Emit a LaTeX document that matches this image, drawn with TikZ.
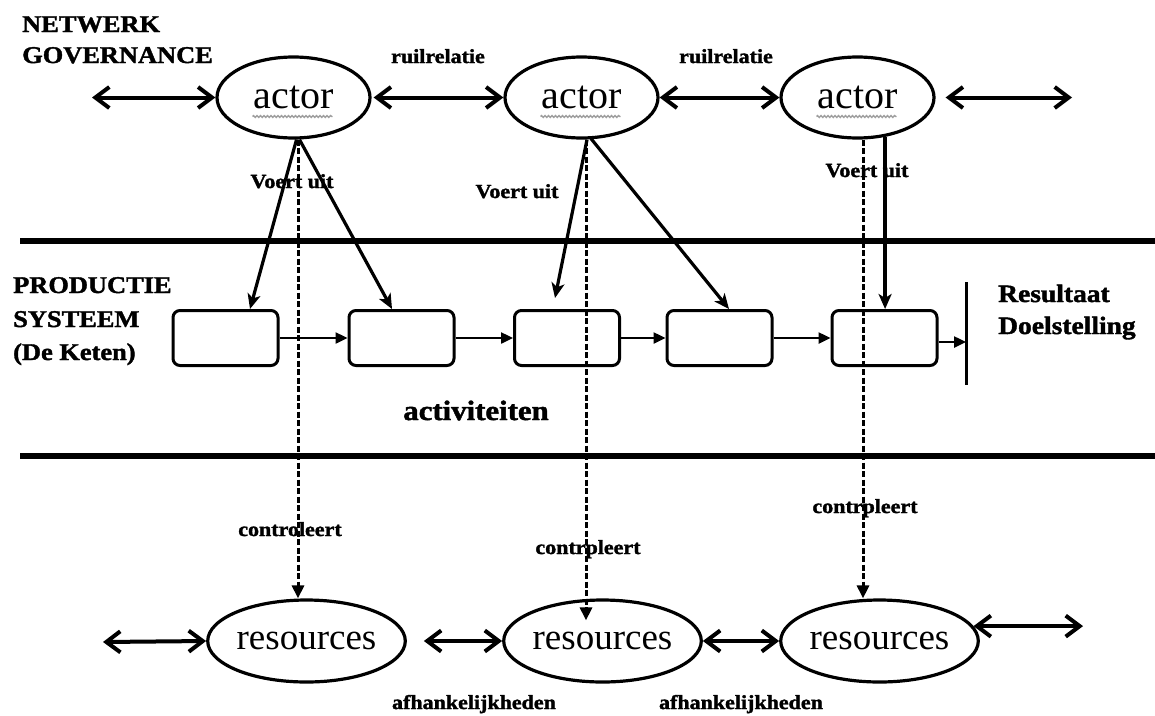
\documentclass[tikz,border=0pt]{standalone}
\usepackage{fontspec}
\setmainfont{Liberation Serif}
\newfontfamily\lblfont[FakeStretch=1.1,FakeBold=1.6]{Liberation Serif Bold}
\usetikzlibrary{arrows.meta,shapes.geometric,decorations.pathmorphing}

\tikzset{
  actor/.style={ellipse, draw, line width=3.2pt, minimum width=153pt, minimum height=81pt,
    inner sep=0pt, font=\fontsize{40}{44}\selectfont},
  res/.style={ellipse, draw, line width=3.2pt, minimum height=82pt,
    inner sep=0pt, font=\fontsize{37}{40}\selectfont},
  activity/.style={draw, line width=3pt, rounded corners=7pt, minimum width=105pt,
    minimum height=55pt, inner sep=0pt},
  hdr/.style={font=\lblfont\fontsize{24}{28}\selectfont, inner sep=0pt, anchor=base west},
  tag/.style={font=\lblfont\fontsize{20}{24}\selectfont, inner sep=0pt, anchor=base},
  dbl/.style={{Straight Barb[length=14pt,width=21pt]}-{Straight Barb[length=14pt,width=21pt]},
    line width=4pt},
  exec/.style={-{Stealth[length=15pt,width=13pt,inset=4pt]}, line width=3.2pt},
  flow/.style={-{Triangle[length=12pt,width=11pt]}, line width=2.4pt},
  ctrl/.style={-{Triangle[length=13pt,width=12pt]}, line width=3pt,
    dash pattern=on 6pt off 2.5pt},
  squig/.style={gray!75, line width=1.4pt,
    decorate, decoration={snake, segment length=3.5pt, amplitude=0.9pt}},
  layer/.style={line width=6pt}
}

\begin{document}
\begin{tikzpicture}[x=1pt, y=-1pt]
\useasboundingbox (0,0) rectangle (1155,715);

% layer separators
\draw[layer] (20,241) -- (1155,241);
\draw[layer] (20,456) -- (1155,456);

% section headings
\node[hdr] (nw1) at (22,32) {NETWERK};
\node[hdr] (nw2) at (22,63) {GOVERNANCE};
\node[hdr] (ps1) at (13,293) {PRODUCTIE};
\node[hdr] (ps2) at (13,327) {SYSTEEM};
\node[hdr] (ps3) at (13,360) {(De Keten)};

% actors
\node[actor] (a1) at (293.5,97.5) {actor};
\node[actor] (a2) at (581.5,97.5) {actor};
\node[actor] (a3) at (857.5,97.5) {actor};
\foreach \a in {a1,a2,a3}
  \draw[squig] ([shift={(-41pt,-19pt)}]\a.center) -- ([shift={(39pt,-19pt)}]\a.center);

% exchange relations between actors
\coordinate (tl) at (92,97.5);
\coordinate (tr) at (1072,97.5);
\draw[dbl] (tl) -- (a1.west);
\draw[dbl] ([xshift=2pt]a1.east) -- (a2.west);
\draw[dbl] (a2.east) -- (a3.west);
\draw[dbl] ([xshift=10pt]a3.east) -- (tr);
\node[tag] (rr1) at (438,63) {ruilrelatie};
\node[tag] (rr2) at (726,63) {ruilrelatie};

% activity chain
\node[activity] (b1) at (225.5,338) {};
\node[activity] (b2) at (401.5,338) {};
\node[activity] (b3) at (567,338) {};
\node[activity] (b4) at (719.5,338) {};
\node[activity] (b5) at (884.5,338) {};
\coordinate (bar) at (966,338);
\draw[line width=3pt] (966,282) -- (966,385);
\draw[flow] (b1.east) -- (b2.west);
\draw[flow] (b2.east) -- (b3.west);
\draw[flow] (b3.east) -- (b4.west);
\draw[flow] (b4.east) -- (b5.west);
\draw[flow] ([yshift=-4pt]b5.east) -- ([yshift=-4pt]b5.east -| bar);
\node[font=\lblfont\fontsize{28}{32}\selectfont, inner sep=0pt, anchor=base] (act) at (476,420) {activiteiten};
\node[font=\lblfont\fontsize{25}{29}\selectfont, inner sep=0pt, anchor=base west] (res1) at (998,302) {Resultaat};
\node[font=\lblfont\fontsize{25}{29}\selectfont, inner sep=0pt, anchor=base west] (res2) at (998,334) {Doelstelling};

% resources
\node[res, minimum width=153pt] (r1) at (306.5,641) {resources};
\node[res, minimum width=151pt] (r2) at (602.5,641) {resources};
\node[res, minimum width=155pt] (r3) at (879.5,641) {resources};
\coordinate (bl) at (103,642);
\coordinate (br) at (1083,630);
\draw[dbl] (bl) -- (r1.west);
\draw[dbl] ([xshift=17pt]r1.east) -- (r2.west);
\draw[dbl] (r2.east) -- (r3.west);
\draw[dbl] (r3.9) -- (r3.9 -| br);
\node[tag] (af1) at (474,709) {afhankelijkheden};
\node[tag] (af2) at (741,709) {afhankelijkheden};

% control of resources
\draw[ctrl] ([xshift=4.5pt]a1.south) -- ([xshift=4.5pt]a1.south |- r1.north);
\draw[ctrl] ([xshift=4.5pt]a2.south) -- ([xshift=4.5pt,yshift=-22pt]a2.south |- r2.north);
\draw[ctrl] ([xshift=5.5pt]a3.south) -- ([xshift=5.5pt]a3.south |- r3.north);
\node[tag] (c1) at (290,536) {controleert};
\node[tag] (c2) at (588,554) {contrpleert};
\node[tag] (c3) at (865,513) {contrpleert};

% actors carry out activities
\draw[exec] ([xshift=3pt]a1.south) -- ([xshift=24.5pt]b1.north);
\draw[exec] ([xshift=6pt]a1.south) -- ([xshift=-9.5pt]b2.north);
\draw[exec] ([xshift=5.5pt]a2.south) -- ([xshift=-12pt,yshift=11pt]b3.north);
\draw[exec] ([xshift=9.5pt,yshift=1pt]a2.south) -- ([xshift=9.5pt]b4.north);
\draw[exec] (a3.-55) -- (a3.-55 |- b5.north);
\node[tag] (v1) at (292,188) {Voert uit};
\node[tag] (v2) at (517,198) {Voert uit};
\node[tag] (v3) at (867,177) {Voert uit};
\end{tikzpicture}
\end{document}
